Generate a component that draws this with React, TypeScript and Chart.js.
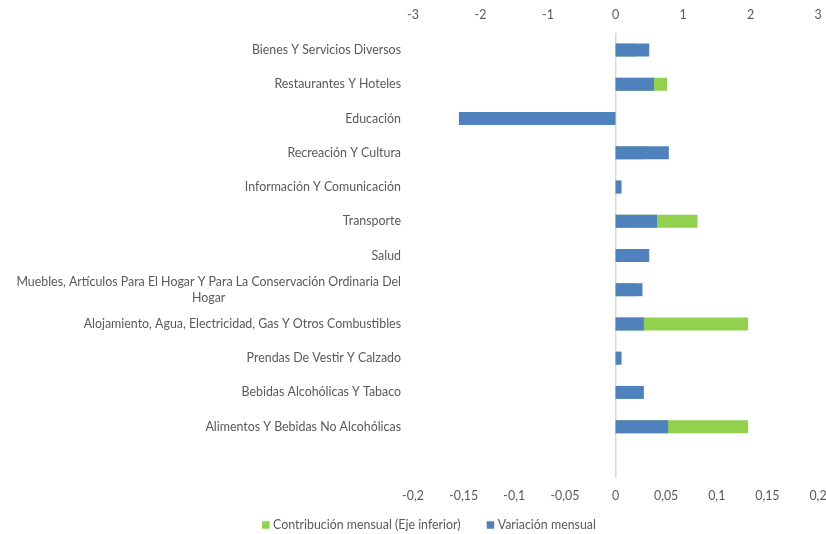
import React, { useEffect, useRef } from "react";
import { Chart, registerables } from "chart.js";

Chart.register(...registerables);

const categories: string[][] = [
  ["Bienes Y Servicios Diversos"],
  ["Restaurantes Y Hoteles"],
  ["Educación"],
  ["Recreación Y Cultura"],
  ["Información Y Comunicación"],
  ["Transporte"],
  ["Salud"],
  ["Muebles, Artículos Para El Hogar Y Para La Conservación Ordinaria Del", "Hogar"],
  ["Alojamiento, Agua, Electricidad, Gas Y Otros Combustibles"],
  ["Prendas De Vestir Y Calzado"],
  ["Bebidas Alcohólicas Y Tabaco"],
  ["Alimentos Y Bebidas No Alcohólicas"],
  [""],
];

const variacionMensual: (number | null)[] = [0.5, 0.57, -2.32, 0.79, 0.09, 0.615, 0.5, 0.4, 0.42, 0.09, 0.42, 0.78, null];
const contribucionMensual: (number | null)[] = [0.02, 0.051, -0.1, 0.03, 0.004, 0.081, 0.015, 0.02, 0.131, 0.004, 0.008, 0.131, null];

const topAxisRange = { min: -3, max: 3, step: 1 };
const bottomAxisRange = { min: -0.2, max: 0.2, step: 0.05 };

const FONT = "Lato";
const FSIZE = 12.4;
const TEXT = "#595959";

const labelPlugin = {
  id: "catLabels",
  afterDraw(chart: any) {
    const ys = chart.scales.y;
    const ctx = chart.ctx;
    ctx.save();
    ctx.font = `${FSIZE}px ${FONT}`;
    ctx.fillStyle = TEXT;
    ctx.textBaseline = "middle";
    const right = chart.chartArea.left - 12;
    categories.forEach((lines, i) => {
      const y = ys.getPixelForValue(i);
      if (lines.length === 1) {
        ctx.textAlign = "right";
        ctx.fillText(lines[0], right, y);
      } else {
        const w = ctx.measureText(lines[0]).width;
        const cx = right - w / 2;
        ctx.textAlign = "center";
        const lh = 16;
        const start = y - ((lines.length - 1) * lh) / 2;
        lines.forEach((l, k) => ctx.fillText(l, cx, start + k * lh));
      }
    });

    // legend (green first, then blue)
    const items = [...chart.data.datasets].reverse();
    const box = 7.5;
    const gapBoxText = 3.5;
    const gapItems = 26;
    const widths = items.map((d: any) => ctx.measureText(d.label).width);
    const total = widths.reduce((a: number, w: number) => a + box + gapBoxText + w, 0) + gapItems * (items.length - 1);
    let x = 429 - total / 2;
    const ly = 525;
    ctx.textAlign = "left";
    items.forEach((d: any, k: number) => {
      ctx.fillStyle = d.backgroundColor;
      ctx.fillRect(x, ly - box / 2, box, box);
      x += box + gapBoxText;
      ctx.fillStyle = TEXT;
      ctx.fillText(d.label, x, ly);
      x += widths[k] + gapItems;
    });
    ctx.restore();
  },
};

const fmt = (v: number) => {
  const r = Math.round(v * 100) / 100;
  return String(r).replace(".", ",");
};

const fixPad = (s: any) => {
  s.paddingLeft = 0;
  s.paddingRight = 8;
};

export default function App() {
  const ref = useRef<HTMLCanvasElement>(null);
  useEffect(() => {
    const chart = new Chart(ref.current!, {
      type: "bar",
      data: {
        labels: categories.map((c) => c.join(" ")),
        datasets: [
          {
            label: "Variación mensual",
            data: variacionMensual,
            backgroundColor: "#4F81BD",
            xAxisID: "x2",
            grouped: false,
            barPercentage: 0.38,
            categoryPercentage: 1,
          },
          {
            label: "Contribución mensual (Eje inferior)",
            data: contribucionMensual,
            backgroundColor: "#92D050",
            xAxisID: "x",
            grouped: false,
            barPercentage: 0.38,
            categoryPercentage: 1,
          },
        ] as any,
      },
      options: {
        indexAxis: "y",
        animation: false,
        responsive: false,
        maintainAspectRatio: false,
        layout: { padding: { left: 0, right: 0, top: 0, bottom: 26 } },
        scales: {
          y: {
            ticks: { display: false },
            grid: { display: false },
            border: { display: false },
            afterFit: (s: any) => {
              s.width = 413;
            },
          },
          x2: {
            position: "top",
            min: topAxisRange.min,
            max: topAxisRange.max,
            ticks: { stepSize: topAxisRange.step, color: TEXT, font: { family: FONT, size: FSIZE }, padding: 3 },
            grid: { display: false },
            border: { display: false },
            afterFit: (s: any) => {
              s.height = 33;
              fixPad(s);
            },
          },
          x: {
            position: "bottom",
            min: bottomAxisRange.min,
            max: bottomAxisRange.max,
            ticks: {
              stepSize: bottomAxisRange.step,
              color: TEXT,
              font: { family: FONT, size: FSIZE },
              padding: 11,
              callback: (v: any) => fmt(Number(v)),
            },
            grid: {
              color: (c: any) => (c.tick && Math.abs(c.tick.value) < 1e-9 ? "#D9D9D9" : "rgba(0,0,0,0)"),
              lineWidth: 1.5,
              drawTicks: false,
            },
            border: { display: false },
            afterFit: (s: any) => {
              s.height = 30;
              fixPad(s);
            },
          },
        },
        plugins: {
          tooltip: { enabled: false },
          legend: { display: false },
        },
      },
      plugins: [labelPlugin],
    });
    return () => chart.destroy();
  }, []);
  return (
    <div style={{ position: "fixed", left: 0, top: 0, width: 826, height: 534, background: "#fff" }}>
      <canvas ref={ref} width={826} height={534} style={{ width: 826, height: 534 }} />
    </div>
  );
}
